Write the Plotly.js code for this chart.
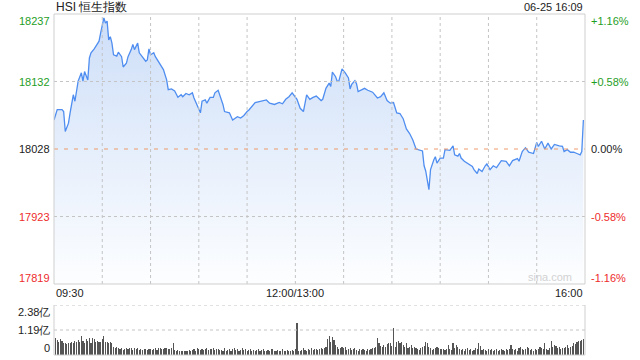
<!DOCTYPE html>
<html>
<head>
<meta charset="utf-8">
<script src="https://cdn.plot.ly/plotly-3.0.1.min.js"></script>
<style>html,body{margin:0;padding:0;background:#fff;}#chart{width:640px;height:360px;}</style>
</head>
<body>
<div id="chart"></div>
<script>
// ---- data ----
const title = "HSI 恒生指数";
const stamp = "06-25 16:09";
const prevClose = 18028;
const priceTicks = [18237, 18132, 18028, 17923, 17819];
const pctTicks = ["+1.16%", "+0.58%", "0.00%", "-0.58%", "-1.16%"];
const timeLabels = ["09:30", "12:00/13:00", "16:00"];
const timeLabelMinutes = [0, 150, 330];
const volTickVals = [2.38, 1.19, 0];
const volTickText = ["2.38亿", "1.19亿", "0"];

// minutes since 09:30 (lunch break removed)
const minutes = [0,2,5,6,7,9,10,12,13,14,15,17,18,19,21,22,23,25,27,28,29,31,32,33,34,35,36,37,39,40,42,43,45,46,48,49,50,52,53,55,57,58,59,60,62,63,66,68,70,71,73,75,77,79,80,82,84,86,87,89,91,92,94,95,97,99,100,102,103,105,106,109,111,114,116,118,120,121,125,128,132,134,137,140,142,144,146,148,150,151,153,155,157,159,161,163,166,167,169,171,172,173,175,176,177,179,181,183,184,185,187,188,189,191,193,195,198,201,203,205,207,209,211,213,215,217,219,221,223,225,227,229,230,231,233,234,236,237,238,240,242,243,246,248,249,251,252,253,255,257,260,261,263,264,266,268,269,271,273,275,278,281,283,285,288,289,291,293,295,298,300,301,303,305,307,309,311,314,316,317,319,321,323,325,327,328,329];
const prices = [18073,18089,18089,18086,18055,18068,18084,18112,18102,18120,
18133,18146,18133,18148,18135,18169,18177,18183,18192,18195,
18208,18231,18223,18226,18197,18202,18192,18174,18172,18178,
18171,18155,18161,18171,18182,18190,18182,18192,18177,18171,
18164,18166,18183,18174,18177,18171,18159,18151,18135,18120,
18121,18118,18108,18112,18109,18114,18112,18115,18107,18094,
18084,18102,18104,18099,18108,18108,18115,18119,18112,18097,
18086,18084,18073,18078,18076,18080,18086,18088,18100,18102,
18104,18099,18097,18100,18098,18105,18109,18115,18108,18105,
18091,18086,18112,18105,18108,18110,18103,18105,18122,18130,
18125,18147,18140,18133,18133,18152,18146,18138,18121,18128,
18134,18129,18117,18119,18122,18119,18116,18107,18109,18115,
18103,18099,18100,18084,18083,18075,18059,18052,18042,18028,
18026,18025,18002,17994,17965,17996,18011,18016,18006,18014,
18014,18027,18026,18033,18019,18017,18021,18014,18009,18006,
18001,17996,17990,17997,17993,18002,18005,17996,18002,17999,
18010,18009,18002,18010,18013,18009,18024,18030,18023,18021,
18038,18032,18040,18028,18037,18028,18035,18033,18032,18024,
18027,18023,18023,18021,18019,18024,18073];

// per-minute volume (亿)
const volume = [
0.79,0.71,0.63,0.75,0.68,0.56,0.59,0.52,0.56,0.59,0.63,0.59,0.67,0.63,0.72,0.60,0.90,0.67,0.56,0.75,0.67,0.79,0.59,0.79,0.76,0.63,0.68,0.63,0.60,0.74,0.90,0.63,0.63,0.59,0.63,0.55,
0.40,0.32,0.40,0.35,0.29,0.32,0.24,0.29,0.32,0.29,0.32,0.35,0.24,0.35,0.29,0.32,0.24,0.29,0.24,0.29,0.27,0.24,0.29,0.27,0.24,0.29,0.32,0.24,0.32,0.32,0.29,0.29,0.35,0.32,0.27,0.30,0.32,
0.56,
0.24,0.19,0.24,0.21,0.21,0.19,0.21,0.19,0.21,0.24,0.21,0.24,0.29,0.21,0.32,0.27,0.24,0.29,0.24,0.27,0.32,0.24,0.29,0.27,0.32,0.24,0.27,0.29,0.24,
0.24,0.21,0.32,0.19,0.24,0.27,0.21,0.29,0.32,0.24,0.29,0.21,0.24,0.34,0.24,0.27,0.21,0.24,0.29,0.21,0.24,0.19,0.24,0.27,0.21,0.24,0.29,0.21,0.19,0.24,0.21,0.27,0.29,0.19,0.21,0.24,0.19,0.21,0.27,0.19,0.21,0.24,0.21,0.19,0.24,0.21,0.27,
1.54,
0.21,0.21,0.24,0.32,0.24,0.21,0.27,0.24,0.32,0.24,0.27,0.29,0.24,0.27,0.32,0.29,0.35,0.40,
0.75,0.90,0.63,0.84,0.71,0.48,0.40,0.29,0.32,0.37,
0.35,0.40,0.24,0.29,0.32,0.24,0.29,0.35,0.24,0.21,0.27,0.24,0.29,0.24,0.21,0.27,0.24,0.27,0.32,0.35,0.37,
0.79,0.59,0.43,0.40,0.48,0.40,0.52,0.56,0.59,0.45,
1.27,
0.40,0.63,0.67,0.56,0.63,0.48,0.40,0.56,0.35,0.40,0.48,0.32,
0.40,0.32,0.29,0.24,0.32,0.40,0.45,0.63,0.56,0.40,0.32,0.24,0.27,0.32,0.40,0.32,0.29,0.27,
0.27,0.24,0.29,0.48,0.27,0.24,0.59,0.32,0.48,0.40,0.27,0.24,0.29,0.21,0.27,0.32,0.24,0.29,0.21,0.24,0.32,0.27,0.56,0.43,0.24,0.29,
0.24,0.21,0.27,0.24,0.29,0.21,0.24,0.27,0.21,0.24,0.29,0.24,0.21,0.27,0.24,0.29,0.48,0.27,0.24,0.29,0.21,0.32,0.40,0.27,0.24,0.29,0.40,0.32,0.24,0.27,0.21,0.29,0.24,0.27,
0.40,0.32,0.27,0.56,0.29,0.24,0.32,0.67,0.40,0.48,0.43,0.32,0.40,0.29,0.35,0.32,0.40,0.48,0.35,0.40,0.45,0.59,0.52,0.63,0.67,0.68,0.71,0.76
];
const volMinutes = volume.map((v, i) => i + 1);

// ---- layout constants ----
const W = 640, H = 360;
const L = 54, R = 55, T = 14, B = 5;
const plotH = H - T - B;
const mainBottomPx = 284, volTopPx = 305;
const mainDomain = [(H - B - mainBottomPx) / plotH, 1];
const volDomain = [0, (H - B - volTopPx) / plotH];
const yMin = prevClose * (1 - 0.0116), yMax = prevClose * (1 + 0.0116);
const FONT = '"Liberation Sans", Arial, sans-serif';
const GREEN = '#1f9e1f', RED = '#ee2c2c', DARK = '#222';
const GRID = '#c4c4c4', BORDER = '#cfcfcf';

const traces = [
  {
    x: minutes, y: prices, type: 'scatter', mode: 'lines',
    line: {color: '#4f8ef0', width: 1.3},
    fill: 'tozeroy',
    fillgradient: {type: 'vertical', start: yMin, stop: yMax,
      colorscale: [[0, 'rgb(253,254,255)'], [1, 'rgb(205,222,248)']]},
    xaxis: 'x', yaxis: 'y', hoverinfo: 'skip'
  },
  {
    x: volMinutes, y: volume, type: 'bar', width: 0.7,
    marker: {color: '#555', line: {width: 0}},
    xaxis: 'x2', yaxis: 'y2', hoverinfo: 'skip'
  }
];

const shapes = [];
// vertical grid every 30 min in main panel
for (let m = 30; m < 330; m += 30) {
  shapes.push({type: 'line', xref: 'x', yref: 'paper', x0: m, x1: m,
    y0: mainDomain[0], y1: 1, line: {color: GRID, width: 1, dash: 'dot'}, layer: 'above'});
}
// horizontal grid in main panel
[priceTicks[1], priceTicks[3]].forEach(v => {
  const yv = v === priceTicks[1] ? prevClose * 1.0058 : prevClose * 0.9942;
  shapes.push({type: 'line', xref: 'paper', yref: 'y', x0: 0, x1: 1, y0: yv, y1: yv,
    line: {color: GRID, width: 1, dash: 'dot'}, layer: 'above'});
});
// prev close dashed
shapes.push({type: 'line', xref: 'paper', yref: 'y', x0: 0, x1: 1, y0: prevClose, y1: prevClose,
  line: {color: '#ef9a6a', width: 1, dash: '4px,6px'}, layer: 'above'});
// main border
shapes.push({type: 'rect', xref: 'paper', yref: 'paper', x0: 0, x1: 1, y0: mainDomain[0], y1: 1,
  line: {color: BORDER, width: 1}, layer: 'above'});
// volume grid
[volTickVals[0], volTickVals[1]].forEach(v => {
  shapes.push({type: 'line', xref: 'paper', yref: 'y2', x0: 0, x1: 1, y0: v, y1: v,
    line: {color: GRID, width: 1, dash: 'dot'}, layer: 'above'});
});
// volume border (left, right, bottom)
shapes.push({type: 'line', xref: 'paper', yref: 'paper', x0: 0, x1: 0, y0: 0, y1: volDomain[1], line: {color: BORDER, width: 1}});
shapes.push({type: 'line', xref: 'paper', yref: 'paper', x0: 1, x1: 1, y0: 0, y1: volDomain[1], line: {color: BORDER, width: 1}});
shapes.push({type: 'line', xref: 'paper', yref: 'paper', x0: 0, x1: 1, y0: 0, y1: 0, line: {color: BORDER, width: 1}});

const annotations = [];
const priceColors = [GREEN, GREEN, DARK, RED, RED];
const priceVals = [yMax, prevClose * 1.0058, prevClose, prevClose * 0.9942, yMin];
const shifts = [-7, 0, 0, 0, 6];
priceTicks.forEach((t, i) => {
  annotations.push({xref: 'paper', yref: 'y', x: 0, y: priceVals[i], xanchor: 'right', yanchor: 'middle',
    xshift: -2, yshift: shifts[i], text: String(t), showarrow: false,
    font: {family: FONT, size: 11, color: priceColors[i]}});
  annotations.push({xref: 'paper', yref: 'y', x: 1, y: priceVals[i], xanchor: 'left', yanchor: 'middle',
    xshift: 4, yshift: shifts[i], text: pctTicks[i], showarrow: false,
    font: {family: FONT, size: 11, color: priceColors[i]}});
});
const volShifts = [-7, 0, 7];
volTickVals.forEach((v, i) => {
  annotations.push({xref: 'paper', yref: 'y2', x: 0, y: v, xanchor: 'right', yanchor: 'middle',
    xshift: -2, yshift: volShifts[i], text: volTickText[i], showarrow: false,
    font: {family: FONT, size: 11, color: DARK}});
});
const anchors = ['left', 'center', 'right'];
timeLabels.forEach((t, i) => {
  annotations.push({xref: 'x', yref: 'paper', x: timeLabelMinutes[i], y: (H - B - 293) / plotH,
    xanchor: anchors[i], yanchor: 'middle', text: t, showarrow: false,
    font: {family: FONT, size: 11, color: DARK}});
});
annotations.push({xref: 'paper', yref: 'paper', x: 0, y: 1 + 7 / plotH, xanchor: 'left', yanchor: 'middle',
  xshift: 0, text: title, showarrow: false, font: {family: FONT, size: 12, color: DARK}});
annotations.push({xref: 'paper', yref: 'paper', x: 1, y: 1 + 7 / plotH, xanchor: 'right', yanchor: 'middle',
  text: stamp, showarrow: false, font: {family: FONT, size: 11, color: DARK}});
annotations.push({xref: 'paper', yref: 'paper', x: (574 - L) / (W - L - R), y: (H - B - 277) / plotH,
  xanchor: 'right', yanchor: 'middle', text: 'sina.com', showarrow: false,
  font: {family: FONT, size: 11, color: '#d2d2d2'}});

const axisCommon = {showgrid: false, zeroline: false, showline: false, showticklabels: false, ticks: '', fixedrange: true};
const layout = {
  width: W, height: H,
  margin: {l: L, r: R, t: T, b: B, pad: 0},
  paper_bgcolor: '#fff', plot_bgcolor: 'rgba(0,0,0,0)',
  showlegend: false, hovermode: false, bargap: 0,
  xaxis: Object.assign({}, axisCommon, {domain: [0, 1], range: [0, 330], anchor: 'y'}),
  yaxis: Object.assign({}, axisCommon, {domain: mainDomain, range: [yMin, yMax], anchor: 'x'}),
  xaxis2: Object.assign({}, axisCommon, {domain: [0, 1], range: [0, 330], anchor: 'y2'}),
  yaxis2: Object.assign({}, axisCommon, {domain: volDomain, range: [0, 2.38], anchor: 'x2'}),
  shapes: shapes,
  annotations: annotations,
  font: {family: FONT}
};
Plotly.newPlot('chart', traces, layout, {staticPlot: true, displayModeBar: false});
</script>
</body>
</html>
